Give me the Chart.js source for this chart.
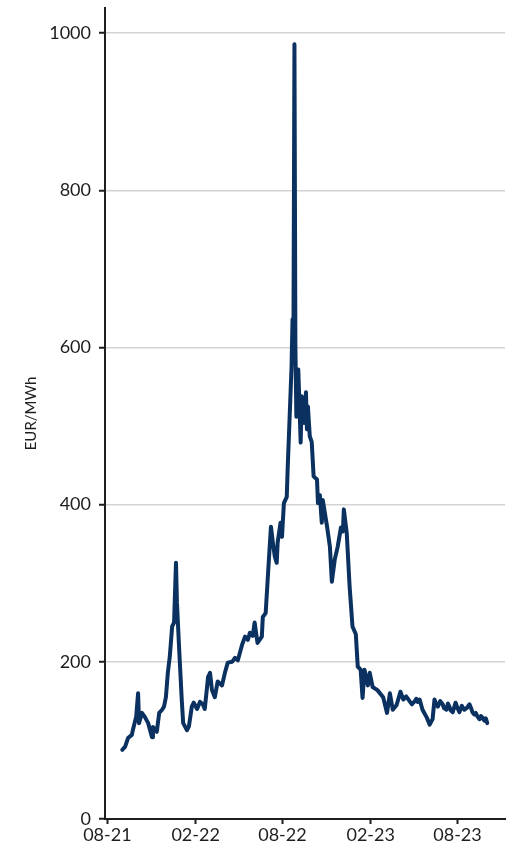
<!DOCTYPE html>
<html>
<head>
<meta charset="utf-8">
<script src="https://cdn.jsdelivr.net/npm/chart.js@4.4.1/dist/chart.umd.min.js"></script>
<style>
    html, body { margin: 0; padding: 0; background: #fff; }
    #wrap { width: 507px; height: 850px; }
</style>
</head>
<body>
<div id="wrap"><canvas id="priceChart" width="507" height="850"></canvas></div>
<script>
const dates = [
    "2021-09-01", "2021-09-07", "2021-09-13", "2021-09-21", "2021-09-23", "2021-09-30",
    "2021-10-04", "2021-10-06", "2021-10-12", "2021-10-18", "2021-10-25", "2021-11-02",
    "2021-11-04", "2021-11-12", "2021-11-17", "2021-11-23", "2021-11-27", "2021-12-01",
    "2021-12-05", "2021-12-09", "2021-12-14", "2021-12-18", "2021-12-22", "2021-12-24",
    "2021-12-26", "2021-12-28", "2022-01-03", "2022-01-06", "2022-01-14", "2022-01-18",
    "2022-01-24", "2022-01-28", "2022-02-04", "2022-02-10", "2022-02-16", "2022-02-20",
    "2022-02-27", "2022-03-03", "2022-03-07", "2022-03-13", "2022-03-19", "2022-03-28",
    "2022-04-03", "2022-04-09", "2022-04-18", "2022-04-24", "2022-04-30", "2022-05-09",
    "2022-05-15", "2022-05-21", "2022-05-25", "2022-05-31", "2022-06-04", "2022-06-10",
    "2022-06-19", "2022-06-21", "2022-06-27", "2022-07-02", "2022-07-08", "2022-07-12",
    "2022-07-16", "2022-07-20", "2022-07-22", "2022-07-28", "2022-07-31", "2022-08-04",
    "2022-08-10", "2022-08-12", "2022-08-16", "2022-08-20", "2022-08-22", "2022-08-24",
    "2022-08-26", "2022-08-28", "2022-08-30", "2022-09-03", "2022-09-08", "2022-09-10",
    "2022-09-15", "2022-09-19", "2022-09-21", "2022-09-23", "2022-09-27", "2022-10-01",
    "2022-10-05", "2022-10-12", "2022-10-14", "2022-10-18", "2022-10-22", "2022-10-24",
    "2022-11-02", "2022-11-08", "2022-11-12", "2022-11-18", "2022-11-24", "2022-12-01",
    "2022-12-05", "2022-12-07", "2022-12-13", "2022-12-19", "2022-12-25", "2023-01-01",
    "2023-01-05", "2023-01-11", "2023-01-15", "2023-01-19", "2023-01-26", "2023-01-30",
    "2023-02-05", "2023-02-15", "2023-02-27", "2023-03-07", "2023-03-13", "2023-03-19",
    "2023-03-27", "2023-04-04", "2023-04-10", "2023-04-16", "2023-04-23", "2023-04-28",
    "2023-05-04", "2023-05-07", "2023-05-10", "2023-05-14", "2023-05-20", "2023-05-29",
    "2023-06-04", "2023-06-10", "2023-06-14", "2023-06-17", "2023-06-21", "2023-06-26",
    "2023-07-01", "2023-07-04", "2023-07-09", "2023-07-12", "2023-07-15", "2023-07-18",
    "2023-07-22", "2023-07-25", "2023-07-28", "2023-08-01", "2023-08-05", "2023-08-10",
    "2023-08-15", "2023-08-20", "2023-08-26", "2023-08-30", "2023-09-01", "2023-09-05",
    "2023-09-08", "2023-09-12", "2023-09-16", "2023-09-19", "2023-09-22", "2023-09-26",
    "2023-09-29", "2023-10-02"
];
const prices = [
    88, 92, 103, 107, 113, 130,
    160, 122, 135, 130, 122, 104,
    117, 111, 135, 139, 143, 155,
    186, 206, 245, 250, 326, 275,
    250, 224, 152, 122, 113, 118,
    143, 148, 140, 149, 146, 140,
    181, 186, 164, 155, 175, 170,
    186, 199, 200, 205, 202, 222,
    232, 228, 237, 233, 250, 224,
    232, 257, 262, 313, 372, 352,
    334, 326, 352, 377, 359, 402,
    410, 448, 512, 576, 636, 627,
    986, 600, 512, 572, 479, 538,
    504, 543, 496, 525, 487, 480,
    436, 432, 402, 412, 377, 406,
    372, 346, 302, 330, 346, 371,
    366, 394, 364, 296, 245, 235,
    194, 190, 154, 190, 170, 186,
    168, 164, 155, 135, 160, 139,
    145, 162, 152, 156, 150, 146,
    150, 153, 149, 152, 139, 129,
    120, 127, 152, 147, 143, 150,
    146, 141, 139, 147, 143, 138,
    136, 142, 148, 141, 136, 144,
    139, 141, 146, 140, 136, 133,
    135, 130, 127, 131, 129, 125,
    128, 122
];
const tickDates = ["2021-08-01", "2022-02-01", "2022-08-01", "2023-02-01", "2023-08-01"];
const tickLabels = ["08-21", "02-22", "08-22", "02-23", "08-23"];
const yTicks = [0, 200, 400, 600, 800, 1000];

const START = Date.UTC(2021, 7, 1);
function dayIndex(s) {
    const [y, m, d] = s.split("-").map(Number);
    return Math.round((Date.UTC(y, m - 1, d) - START) / 86400000);
}

const points = dates.map((d, i) => ({ x: dayIndex(d), y: prices[i] }));
const tickDays = tickDates.map(dayIndex);

const axisColor = "#1e1e1e";
const font = { family: "Lato", size: 18 };

new Chart(document.getElementById("priceChart"), {
    type: "line",
    data: {
        datasets: [{
            data: points,
            borderColor: "#0a3160",
            borderWidth: 4,
            tension: 0,
            pointRadius: 0,
            borderJoinStyle: "round",
            borderCapStyle: "round"
        }]
    },
    options: {
        responsive: false,
        animation: false,
        layout: { padding: { top: 0, right: 2, left: 22, bottom: 0 } },
        plugins: { legend: { display: false }, tooltip: { enabled: false } },
        scales: {
            x: {
                type: "linear",
                min: -5,
                max: 829,
                afterBuildTicks: scale => { scale.ticks = tickDays.map(v => ({ value: v })); },
                afterFit: scale => { scale.height = 31; },
                ticks: {
                    color: axisColor,
                    font: font,
                    padding: 0,
                    maxRotation: 0,
                    autoSkip: false,
                    callback: (v) => tickLabels[tickDays.indexOf(v)]
                },
                grid: { drawOnChartArea: false, tickLength: 5, tickColor: axisColor, tickWidth: 2 },
                border: { color: axisColor, width: 2 }
            },
            y: {
                min: 0,
                max: 1032,
                afterBuildTicks: scale => { scale.ticks = yTicks.map(v => ({ value: v })); },
                afterFit: scale => { scale.width = 83; scale.paddingTop = 8; },
                ticks: { color: axisColor, font: font, padding: 8, callback: v => String(v) },
                title: { display: true, text: "EUR/MWh", color: axisColor, font: { family: "Lato", size: 15 }, padding: 0 },
                grid: { color: "#d3d3d3", lineWidth: 1.5, tickLength: 6, tickColor: axisColor, tickWidth: 2 },
                border: { color: axisColor, width: 2 }
            }
        }
    }
});
</script>
</body>
</html>
